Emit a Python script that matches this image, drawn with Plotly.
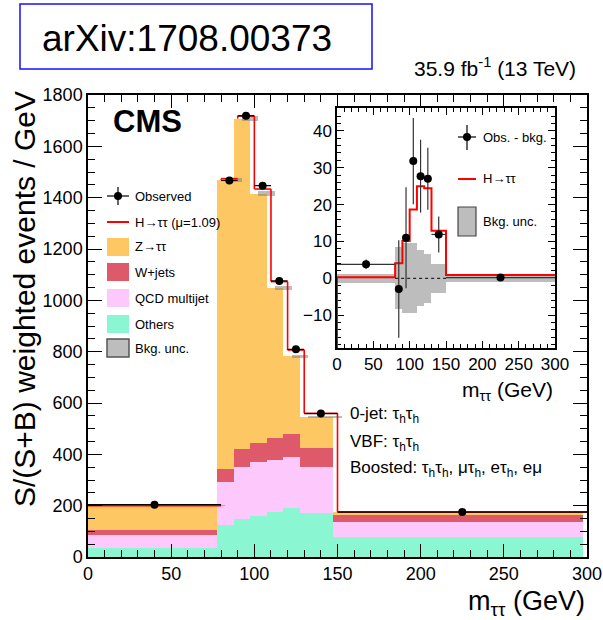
import plotly.graph_objects as go

# Bin edges in m_tautau (GeV)
edges = [0, 80, 90, 100, 110, 120, 130, 150, 300]

# Stacked background yields per bin (S/(S+B) weighted events / GeV)
others = [36, 125, 148, 158, 175, 191, 171, 76]
qcd = [50, 166, 202, 212, 203, 199, 179, 59]
wjets = [20, 53, 72, 76, 84, 88, 74, 30]
ztt = [94, 1126, 1286, 969, 586, 304, 123, 10]

# Higgs signal (mu = 1.09) on top of the background
signal = [0.3, 4.1, 10.1, 18.7, 25.0, 24.4, 12.9, 0.9]

# Observed data and uncertainties
observed = [203.8, 1467.1, 1719.0, 1446.8, 1075.7, 809.0, 558.9, 175.2]
obs_err = [1.3, 13.2, 13.7, 11.7, 9.9, 8.4, 4.9, 0.6]
bkg_unc = [1.2, 8.4, 9.5, 9.5, 7.6, 6.7, 4.0, 1.0]

x_ticks = [0, 50, 100, 150, 200, 250, 300]
y_ticks = [0, 200, 400, 600, 800, 1000, 1200, 1400, 1600, 1800]
inset_y_ticks = [-10, 0, 10, 20, 30, 40]

C_ZTT = "#fdc864"
C_W = "#de5a6a"
C_QCD = "#fdc9fd"
C_OTH = "#8bf7d2"
C_UNC = "rgba(120,120,120,0.5)"
C_UNC_SOLID = "#bdbdbd"
FONT = "Liberation Sans, Arial, sans-serif"

W, H = 603, 620
L, R, T, B = 88, 587, 95, 557
INSET_Y_MIN, INSET_Y_MAX = -18.9, 46.2


def px(xp):
    return (xp - L) / (R - L)


def py(yp):
    return (B - yp) / (B - T)


centers = [(a + b) / 2 for a, b in zip(edges[:-1], edges[1:])]
widths = [b - a for a, b in zip(edges[:-1], edges[1:])]
half_w = [w / 2 for w in widths]
bkg = [o + q + w_ + z for o, q, w_, z in zip(others, qcd, wjets, ztt)]
total = [b_ + s for b_, s in zip(bkg, signal)]
diff = [o - b_ for o, b_ in zip(observed, bkg)]

# Signal+background outline: bin tops, plus the visible part of each step.
# A rising step hides behind the next bin's fill; a falling step stays visible.
out_x, out_y = [], []
for i in range(len(total)):
    out_x += [edges[i], edges[i + 1], None]
    out_y += [total[i], total[i], None]
    if i + 1 < len(total):
        lo, hi = sorted((total[i], total[i + 1]))
        if total[i + 1] > total[i]:
            lo = max(lo, bkg[i + 1])
        out_x += [edges[i + 1], edges[i + 1], None]
        out_y += [lo, hi, None]

fig = go.Figure()

# Main stacked histogram
for name, vals, col in [("Others", others, C_OTH), ("QCD multijet", qcd, C_QCD),
                        ("W+jets", wjets, C_W), ("Z→ττ", ztt, C_ZTT)]:
    fig.add_trace(go.Bar(x=centers, y=vals, width=widths, name=name,
                         marker=dict(color=col, line=dict(width=0)),
                         xaxis="x", yaxis="y", showlegend=False))

# Background uncertainty band
fig.add_trace(go.Bar(x=centers, y=[2 * u for u in bkg_unc], width=widths,
                     base=[b_ - u for b_, u in zip(bkg, bkg_unc)], offsetgroup="unc",
                     marker=dict(color=C_UNC, line=dict(width=0)),
                     xaxis="x", yaxis="y", showlegend=False))

fig.add_trace(go.Scatter(x=out_x, y=out_y, mode="lines",
                         line=dict(color="#ff0000", width=1.6),
                         xaxis="x", yaxis="y", showlegend=False))

# Observed data
fig.add_trace(go.Scatter(x=centers, y=observed, mode="markers",
                         marker=dict(color="black", size=8),
                         error_y=dict(type="data", array=obs_err, color="black",
                                      thickness=1.2, width=0),
                         error_x=dict(type="data", array=half_w, color="black",
                                      thickness=1.2, width=0),
                         xaxis="x", yaxis="y", showlegend=False))

# Inset: background uncertainty around zero
fig.add_trace(go.Bar(x=centers, y=[2 * u for u in bkg_unc], width=widths,
                     base=[-u for u in bkg_unc],
                     marker=dict(color=C_UNC_SOLID, line=dict(width=0)),
                     xaxis="x2", yaxis="y2", showlegend=False))

# Inset: zero reference across the signal region
fig.add_trace(go.Scatter(x=[edges[1], edges[-2]], y=[0, 0], mode="lines",
                         line=dict(color="black", width=1, dash="dot"),
                         xaxis="x2", yaxis="y2", showlegend=False))

# Inset: signal histogram
fig.add_trace(go.Scatter(x=[edges[0]] + edges,
                         y=[INSET_Y_MIN] + signal + [signal[-1]], mode="lines",
                         line=dict(color="#ff0000", width=2, shape="hv"),
                         xaxis="x2", yaxis="y2", showlegend=False))

# Inset: observed minus background
fig.add_trace(go.Scatter(x=centers, y=diff, mode="markers",
                         marker=dict(color="black", size=8),
                         error_y=dict(type="data", array=obs_err, color="#333333",
                                      thickness=1.2, width=0),
                         error_x=dict(type="data", array=half_w, color="#333333",
                                      thickness=1.2, width=0),
                         xaxis="x2", yaxis="y2", showlegend=False))

axis_common = dict(showline=True, linecolor="black", linewidth=1.5, mirror="ticks",
                   ticks="inside", tickcolor="black", showgrid=False, zeroline=False,
                   automargin=False,
                   tickfont=dict(family=FONT, size=18, color="black"))
inset_font = dict(family=FONT, size=17, color="black")

fig.update_layout(
    width=W, height=H, autosize=False,
    margin=dict(l=L, r=W - R, t=T, b=H - B, autoexpand=False),
    paper_bgcolor="white", plot_bgcolor="white",
    barmode="stack", bargap=0, showlegend=False,
    xaxis=dict(domain=[0, 1], range=[0, 300], tickvals=x_ticks, ticklen=13, tickwidth=1.2,
               minor=dict(dtick=10, ticklen=7, ticks="inside", tickcolor="black"),
               **axis_common),
    yaxis=dict(domain=[0, 1], range=[0, 1800], tickvals=y_ticks, ticklen=14, tickwidth=1.2,
               minor=dict(dtick=50, ticklen=7, ticks="inside", tickcolor="black"),
               **axis_common),
    xaxis2=dict(domain=[px(337), px(555)], anchor="y2", range=[0, 300], tickvals=x_ticks,
                ticklen=7, tickwidth=1,
                minor=dict(dtick=10, ticklen=4, ticks="inside", tickcolor="black"),
                **{**axis_common, "tickfont": inset_font}),
    yaxis2=dict(domain=[py(348), py(108)], anchor="x2", range=[INSET_Y_MIN, INSET_Y_MAX],
                tickvals=inset_y_ticks, ticklen=7, tickwidth=1, layer="below traces",
                minor=dict(dtick=2, ticklen=4, ticks="inside", tickcolor="black"),
                **{**axis_common, "tickfont": inset_font}),
)

shapes = []
ann = []


def text(x, y, s, size, xanchor="left", yanchor="middle"):
    ann.append(dict(x=px(x), y=py(y), xref="paper", yref="paper", text=s, showarrow=False,
                    xanchor=xanchor, yanchor=yanchor,
                    font=dict(family=FONT, size=size, color="black")))


def line(x0, y0, x1, y1, color="black", width=1.2):
    shapes.append(dict(type="line", xref="paper", yref="paper", x0=px(x0), y0=py(y0),
                       x1=px(x1), y1=py(y1), line=dict(color=color, width=width)))


def rect(x0, y0, x1, y1, fill, lc=None, lw=0):
    shapes.append(dict(type="rect", xref="paper", yref="paper", x0=px(x0), y0=py(y0),
                       x1=px(x1), y1=py(y1), fillcolor=fill,
                       line=dict(color=lc or fill, width=lw)))


def dot(x, y, r=4):
    shapes.append(dict(type="circle", xref="paper", yref="paper", x0=px(x - r), y0=py(y + r),
                       x1=px(x + r), y1=py(y - r), fillcolor="black",
                       line=dict(color="black", width=0)))


# Header box and luminosity
rect(20, 4, 372, 69, "rgba(0,0,0,0)", lc="#1010ff", lw=1.5)
text(187, 38, "arXiv:1708.00373", 37, xanchor="center")
text(578, 67, "35.9 fb<sup>-1</sup> (13 TeV)", 21, xanchor="right")

# CMS label
text(111, 122, "<b>CMS</b>", 31)

# Main legend
rows = [196, 222, 247, 272, 298, 324, 348]
line(107, rows[0], 129, rows[0])
line(118, rows[0] - 9, 118, rows[0] + 9)
dot(118, rows[0])
text(133, rows[0], "Observed", 13)
line(107, rows[1], 129, rows[1], color="#ff0000", width=2)
text(133, rows[1], "H→ττ (μ=1.09)", 13)
for r_, lab, col in [(rows[2], "Z→ττ", C_ZTT), (rows[3], "W+jets", C_W),
                     (rows[4], "QCD multijet", C_QCD), (rows[5], "Others", C_OTH)]:
    rect(107, r_ - 9, 129, r_ + 9, col)
    text(133, r_, lab, 13)
rect(107, rows[6] - 9, 129, rows[6] + 9, C_UNC_SOLID, lc="#555555", lw=1.5)
text(133, rows[6], "Bkg. unc.", 13)

# Inset legend
line(458, 137, 476, 137)
line(467, 125, 467, 150)
dot(467, 137)
text(481, 137, "Obs. - bkg.", 13)
line(458, 179, 476, 179, color="#ff0000", width=2)
text(481, 179, "H→ττ", 13)
rect(458, 207, 476, 236, C_UNC_SOLID, lc="#444444", lw=1.2)
text(481, 221, "Bkg. unc.", 13)

# Axis titles
text(555, 391, "m<sub>ττ</sub> (GeV)", 21, xanchor="right")
text(587, 603, "m<sub>ττ</sub> (GeV)", 27, xanchor="right")
ann.append(dict(x=px(24), y=py(89), xref="paper", yref="paper",
                text="S/(S+B) weighted events / GeV", textangle=-90, showarrow=False,
                xanchor="center", yanchor="top", font=dict(family=FONT, size=30, color="black")))

# Category description
text(348, 415, "0-jet: τ<sub>h</sub>τ<sub>h</sub>", 17)
text(348, 443, "VBF: τ<sub>h</sub>τ<sub>h</sub>", 17)
text(348, 469, "Boosted: τ<sub>h</sub>τ<sub>h</sub>, μτ<sub>h</sub>, eτ<sub>h</sub>, eμ", 17)

fig.update_layout(shapes=shapes, annotations=ann)
fig.write_html("out.html",
               post_script="document.body.style.margin='0';"
                           "document.body.style.overflow='hidden';")
